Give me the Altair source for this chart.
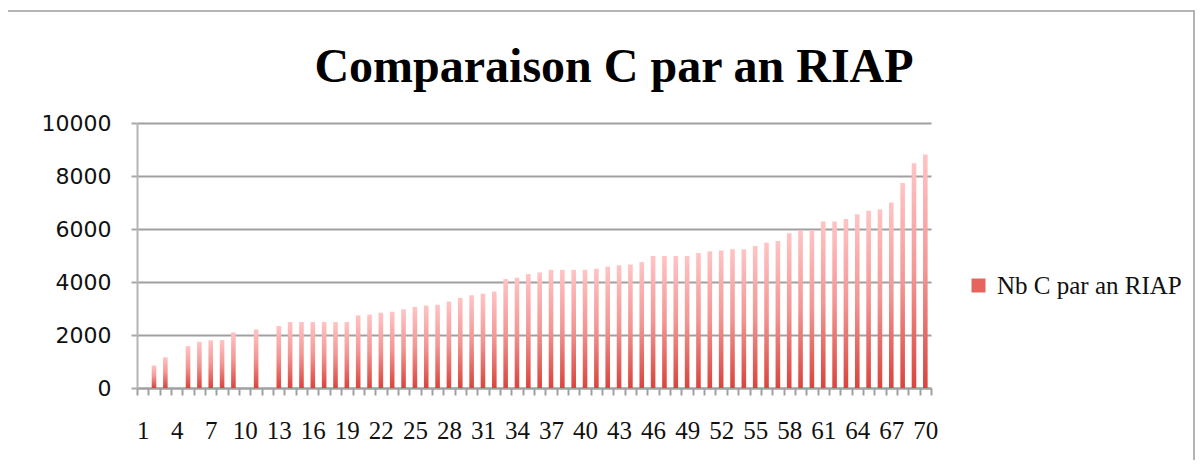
import altair as alt
import pandas as pd

title_text = "Comparaison C par an RIAP"
series_name = "Nb C par an RIAP"
categories = list(range(1, 71))
values = [0, 850, 1160, 0, 1580, 1750, 1800, 1810, 2100, 0,
          2210, 0, 2340, 2490, 2490, 2490, 2490, 2490, 2490, 2740,
          2770, 2840, 2880, 2970, 3060, 3110, 3140, 3260, 3400, 3500,
          3560, 3640, 4110, 4160, 4300, 4360, 4460, 4460, 4460, 4460,
          4500, 4580, 4630, 4660, 4750, 4980, 4980, 4980, 4980, 5090,
          5160, 5190, 5240, 5240, 5360, 5480, 5550, 5840, 5940, 5960,
          6280, 6280, 6380, 6560, 6690, 6750, 7000, 7740, 8480, 8810]
y_ticks = [0, 2000, 4000, 6000, 8000, 10000]

df = pd.DataFrame({"cat": categories, "val": values, "serie": [series_name] * len(categories)})

x_enc = alt.X(
    "cat:O",
    sort=categories,
    scale=alt.Scale(paddingInner=0, paddingOuter=0),
    axis=alt.Axis(
        title=None,
        labelAngle=0,
        labelExpr="(toNumber(datum.value) - 1) % 3 == 0 ? datum.label : ''",
        labelOverlap=False,
        labelFont="Liberation Serif",
        labelFontSize=25,
        labelColor="#111111",
        labelPadding=23,
        tickBand="extent",
        tickSize=7,
        tickColor="#a0a0a0",
        tickWidth=2,
        domainColor="#a0a0a0",
        domainWidth=2,
        grid=False,
    ),
)
y_enc = alt.Y(
    "val:Q",
    scale=alt.Scale(domain=[0, 10000], nice=False),
    axis=alt.Axis(
        title=None,
        values=y_ticks,
        format="d",
        labelFont="DejaVu Sans",
        labelFontSize=22,
        labelColor="#111111",
        labelPadding=20,
        tickSize=6,
        tickColor="#a8a8a8",
        tickWidth=2,
        domainColor="#b5b5b5",
        domainWidth=2,
        grid=True,
        gridColor="#a0a0a0",
        gridWidth=1.8,
    ),
)

bars = alt.Chart(df).mark_bar(
    size=4.6,
    color=alt.Gradient(
        gradient="linear",
        stops=[
            alt.GradientStop(color="#ffc4c4", offset=0),
            alt.GradientStop(color="#f29693", offset=0.5),
            alt.GradientStop(color="#d9443c", offset=1),
        ],
        x1=0, x2=0, y1=0, y2=1,
    ),
).encode(x=x_enc, y=y_enc)

legend_layer = alt.Chart(df).mark_square(opacity=0).encode(
    x=alt.X("cat:O", sort=categories),
    y=alt.Y("val:Q"),
    color=alt.Color(
        "serie:N",
        scale=alt.Scale(range=["#e5645e"]),
        legend=alt.Legend(
            title=None,
            orient="none",
            legendX=829,
            legendY=150,
            padding=0,
            symbolType="square",
            symbolSize=196,
            symbolOpacity=1,
            symbolStrokeWidth=0,
            labelFont="Liberation Serif",
            labelFontSize=25,
            labelColor="#111111",
            labelOffset=6,
            labelLimit=400,
        ),
    ),
)

frame = alt.Chart(pd.DataFrame({"f": [1]})).mark_rect(
    fill="transparent", stroke="#b4b4b4", strokeWidth=2
).encode(
    x=alt.value(-132), x2=alt.value(1057), y=alt.value(-112), y2=alt.value(420)
)

title = alt.Chart(pd.DataFrame({"t": [title_text]})).mark_text(
    font="Liberation Serif",
    fontSize=48,
    fontWeight="bold",
    color="#000000",
    align="center",
    baseline="alphabetic",
).encode(text="t:N", x=alt.value(477), y=alt.value(-41))

chart = alt.layer(frame, bars, legend_layer, title).properties(
    width=794,
    height=265,
    autosize=alt.AutoSizeParams(type="none"),
    padding={"left": 129, "top": 115, "right": 264, "bottom": 72},
).configure(background="white").configure_view(stroke=None)

chart.save("out.html", embed_options={"renderer": "svg", "actions": False})
